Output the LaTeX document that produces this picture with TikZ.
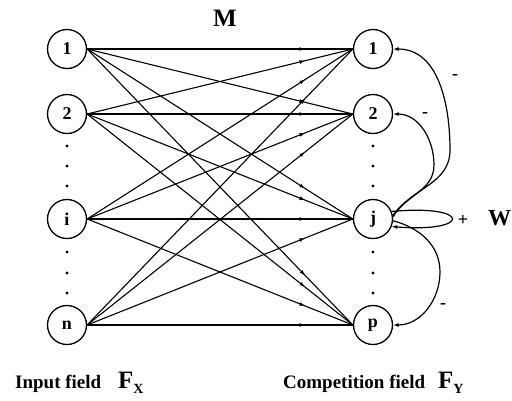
\documentclass[tikz,border=0pt]{standalone}
\usepackage{fontspec}
\setmainfont{Liberation Serif}
\usetikzlibrary{arrows.meta,decorations.markings}
\begin{document}
\begin{tikzpicture}[x=1pt,y=-1pt,
  neuron/.style={circle,draw,line width=1.3pt,minimum size=39pt,inner sep=0pt,font=\fontsize{18}{18}\selectfont\bfseries},
  link/.style={line width=1.1pt,postaction={decorate},decoration={markings,mark=at position 0.82 with {\arrow{Latex[length=5.5pt,width=4pt]}}}},
  lat/.style={line width=1.2pt,-{Latex[length=5.5pt,width=4pt]}},
  vdot/.style={circle,fill,inner sep=0pt,minimum size=3.2pt},
  sign/.style={font=\fontsize{18}{18}\selectfont\bfseries},
  lbl/.style={font=\fontsize{19}{19}\selectfont\bfseries,anchor=base west,inner sep=0pt},
  fld/.style={font=\fontsize{25}{25}\selectfont\bfseries,anchor=base west,inner sep=0pt}]
\useasboundingbox (0,0) rectangle (512,400);
% left field
\node[neuron] (x1) at (67,49) {1};
\node[neuron] (x2) at (67,114) {2};
\node[neuron] (xi) at (67,219) {i};
\node[neuron] (xn) at (67,325) {n};
% right field
\node[neuron] (y1) at (373,49) {1};
\node[neuron] (y2) at (373,114) {2};
\node[neuron] (yj) at (373,219) {j};
\node[neuron] (yp) at (373,325) {p};
% dots
\foreach \yy [count=\k] in {146,166,186,252,273,293}{
  \node[vdot] (ld\k) at (67,\yy) {};
  \node[vdot] (rd\k) at (373,\yy) {};
}
% connections
\foreach \a in {x1,x2,xi,xn}{
  \foreach \b in {y1,y2,yj,yp}{
    \draw[link] (\a.east) -- (\b.west);
  }
}
% lateral connections
\coordinate (w1) at (450,150);
\coordinate (w2) at (434,165);
\coordinate (w3) at (451,218);
\coordinate (w4) at (440,272);
\draw[lat] (yj.10) to[out=55,in=-90] (w1) to[out=90,in=0] (y1.east);
\draw[lat] (yj.6) to[out=60,in=-90] (w2) to[out=90,in=0] (y2.east);
\draw[lat] (yj.22) .. controls (472,204) and (472,233) .. (yj.-22);
\draw[lat] (yj.-5) to[out=-15,in=90] (w4) to[out=-90,in=0] (yp.east);
% signs
\node[sign] (s1) at (455,77) {-};
\node[sign] (s2) at (425,115) {-};
\node[sign] (s3) at (463,220) {+};
\node[sign] (s4) at (443,306) {-};
% labels
\node[font=\fontsize{25}{25}\selectfont\bfseries,anchor=base,inner sep=0pt] (M) at (225,26) {M};
\node[font=\fontsize{23}{23}\selectfont\bfseries,anchor=base west,inner sep=0pt] (W) at (488,225) {W};
\node[lbl] (fx) at (15,388) {Input field};
\node[fld] (fxs) at (118,388) {F\raisebox{-5pt}{\fontsize{14}{14}\selectfont X}};
\node[lbl] (fy) at (283,388) {Competition field};
\node[fld] (fys) at (438,388) {F\raisebox{-5pt}{\fontsize{14}{14}\selectfont Y}};
\end{tikzpicture}
\end{document}
